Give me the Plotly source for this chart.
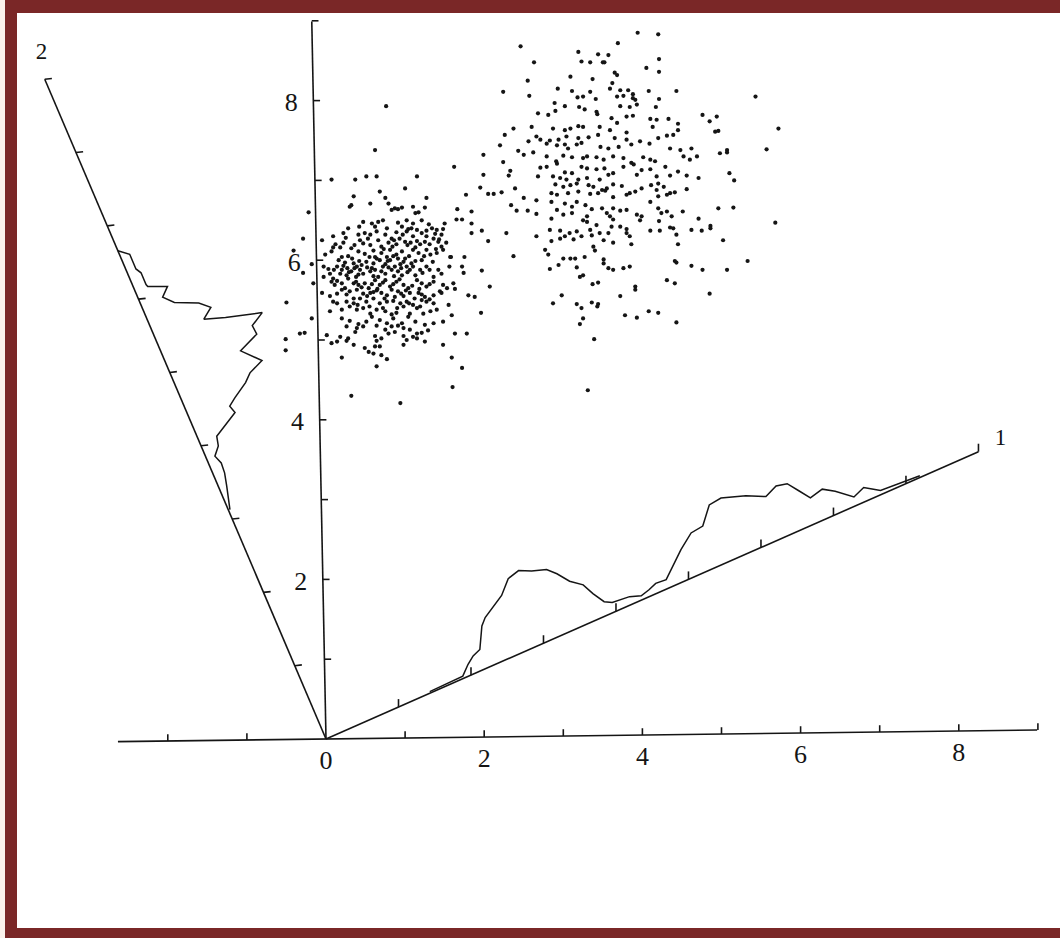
import math
import plotly.graph_objects as go

# ---------------- data (in axis units) ----------------
cluster_a_x = [
    0.07, 0.37, 0.51, 0.64, 1.15, 0.35, 0.68, 0.75, 1.00, 1.27,
    0.30, 0.32, 0.56, 0.79, 0.83, 0.87, 0.91, 0.96, 1.10, 1.25,
    1.13, 1.17, -0.22, 0.47, 0.58, 0.66, 0.91, 1.02, 1.10, 1.21,
    1.50, 0.77, 0.89, 1.02, 1.04, 1.15, 1.27, 1.34, 1.40, 1.48,
    -0.29, -0.05, 0.09, 0.22, 0.41, 0.49, 0.56, 0.64, 0.75, 0.83,
    0.97, 1.10, 1.21, 1.27, 1.46, 0.09, 0.18, 0.22, 0.32, 0.43,
    0.47, 0.56, 0.66, 0.70, 0.79, 0.86, 0.89, 1.00, 1.03, 1.15,
    1.19, 1.25, 1.36, 1.42, 1.46, 1.48, -0.41, -0.01, 0.07, 0.20,
    0.28, 0.41, 0.49, 0.62, 0.70, 0.77, 0.81, 0.89, 0.96, 1.05,
    1.10, 1.17, 1.27, 1.32, 1.40, 1.57, -0.18, -0.03, 0.03, 0.14,
    0.20, 0.27, 0.35, 0.39, 0.45, 0.51, 0.58, 0.64, 0.68, 0.75, 0.81, 0.87, 0.91, 0.98, 1.02, 1.08, 1.21, 1.27, 1.42,
    -0.29, -0.03, 0.05, 0.09, 0.18, 0.26, 0.32, 0.38, 0.43, 0.47, 0.56, 0.62, 0.66, 0.75, 0.83, 0.91, 0.96, 1.06, 1.13, 1.19, 1.36, 1.46, 1.56,
    -0.16, 0.07, 0.11, 0.20, 0.24, 0.35, 0.41, 0.49, 0.54, 0.62, 0.68, 0.75, 0.81, 0.89, 0.98, 1.04, 1.15, 1.21, 1.27, 1.36, 1.44, 1.48, 1.53,
    -0.05, 0.05, 0.14, 0.20, 0.30, 0.39, 0.47, 0.56, 0.64, 0.70, 0.77, 0.83, 0.91, 0.98, 1.06, 1.17, 1.25, 1.36, 1.46,
    -0.50, 0.09, 0.14, 0.26, 0.35, 0.43, 0.51, 0.60, 0.68, 0.77, 0.85, 0.94, 1.02, 1.10, 1.21, 1.27, 1.36, 1.55,
    0.05, 0.20, 0.30, 0.39, 0.47, 0.56, 0.64, 0.75, 0.83, 0.89, 0.98, 1.06, 1.15, 1.23, 1.32, 1.40,
    -0.18, 0.20, 0.30, 0.41, 0.51, 0.58, 0.68, 0.77, 0.85, 0.96, 1.04, 1.13, 1.25, 1.36, 1.48,
    0.26, 0.39, 0.47, 0.64, 0.75, 0.83, 0.91, 0.98, 1.06, 1.15, 1.21, 1.29,
    -0.33, -0.27, 0.01, 0.18, 0.28, 0.37, 0.62, 0.70, 0.79, 0.87, 0.98, 1.02, 1.10, 1.15, 1.25,
    -0.51, 0.07, 0.14, 0.26, 0.35, 0.49, 0.54, 0.62, 0.64, 0.68, 0.98, 1.48,
    -0.51, 1.59, 0.20, 0.60, 0.70, 0.77,
    0.64, 1.72, 1.60, 0.32, 0.94,
    0.76, 0.62,
]
cluster_a_y = [
    7.01, 7.01, 7.05, 7.05, 7.05, 6.80, 6.86, 6.78, 6.90, 6.78,
    6.67, 6.69, 6.71, 6.71, 6.63, 6.65, 6.64, 6.66, 6.67, 6.66,
    6.59, 6.60, 6.60, 6.48, 6.46, 6.48, 6.47, 6.50, 6.46, 6.50,
    6.46, 6.40, 6.35, 6.36, 6.39, 6.38, 6.37, 6.40, 6.38, 6.39,
    6.27, 6.25, 6.30, 6.34, 6.32, 6.34, 6.32, 6.36, 6.32, 6.27,
    6.32, 6.30, 6.34, 6.30, 6.32, 6.16, 6.16, 6.22, 6.15, 6.25,
    6.21, 6.19, 6.25, 6.17, 6.22, 6.25, 6.20, 6.23, 6.19, 6.24,
    6.20, 6.23, 6.27, 6.23, 6.17, 6.13, 6.12, 6.07, 6.11, 6.04,
    6.05, 6.11, 6.08, 6.04, 6.09, 6.04, 6.13, 6.07, 6.11, 6.05,
    6.13, 6.09, 6.13, 6.07, 6.09, 6.04, 5.95, 5.92, 5.89, 5.92,
    5.88, 5.90, 5.96, 5.92, 5.94, 5.98, 5.90, 6.02, 6.00, 5.95, 6.00, 5.92, 6.02, 5.98, 5.92, 5.96, 6.00, 5.92, 5.88,
    5.84, 5.79, 5.83, 5.77, 5.83, 5.81, 5.86, 5.79, 5.88, 5.83, 5.86, 5.88, 5.79, 5.83, 5.88, 5.86, 5.81, 5.88, 5.81, 5.88, 5.79, 5.83, 5.92,
    5.71, 5.73, 5.69, 5.71, 5.65, 5.71, 5.69, 5.71, 5.65, 5.75, 5.69, 5.75, 5.67, 5.73, 5.69, 5.65, 5.75, 5.71, 5.67, 5.73, 5.61, 5.69, 5.65,
    5.59, 5.55, 5.58, 5.63, 5.61, 5.63, 5.58, 5.59, 5.62, 5.59, 5.56, 5.63, 5.61, 5.55, 5.59, 5.59, 5.54, 5.56, 5.59,
    5.47, 5.48, 5.46, 5.48, 5.46, 5.52, 5.48, 5.52, 5.46, 5.48, 5.49, 5.46, 5.48, 5.44, 5.50, 5.48, 5.46, 5.44,
    5.36, 5.38, 5.42, 5.38, 5.40, 5.33, 5.38, 5.36, 5.32, 5.34, 5.42, 5.33, 5.40, 5.33, 5.36, 5.38,
    5.27, 5.27, 5.24, 5.20, 5.23, 5.29, 5.25, 5.21, 5.27, 5.21, 5.29, 5.23, 5.19, 5.21, 5.23,
    5.17, 5.15, 5.17, 5.18, 5.13, 5.17, 5.18, 5.15, 5.13, 5.08, 5.09, 5.12,
    5.08, 5.09, 5.06, 5.04, 5.02, 5.10, 5.05, 5.02, 5.08, 5.10, 5.05, 5.00, 5.04, 5.02, 4.98,
    5.01, 4.96, 4.98, 4.99, 4.94, 4.90, 4.85, 4.92, 4.99, 4.92, 4.94, 4.94,
    4.87, 4.78, 4.78, 4.83, 4.81, 4.76,
    4.67, 4.65, 4.41, 4.30, 4.21,
    7.93, 7.38,
]

# extra points inside the merged blobs of the dense core of the left cluster
core_a_x = [
    0.12, 0.25, 0.36, 0.53, 0.60, 0.73, 0.84, 0.93, 1.07, 1.13, 1.31, 1.39,
    0.16, 0.24, 0.33, 0.42, 0.55, 0.60, 0.72, 0.78, 0.85, 0.94, 1.00, 1.13, 1.24, 1.35,
    0.10, 0.22, 0.29, 0.36, 0.41, 0.52, 0.60, 0.70, 0.79, 0.86, 0.95, 1.03, 1.10, 1.22, 1.31,
    0.14, 0.28, 0.38, 0.45, 0.58, 0.65, 0.72, 0.85, 0.93, 1.01, 1.09, 1.18, 1.31,
    0.26, 0.35, 0.52, 0.60, 0.74, 0.87, 0.95, 1.12, 1.21, 1.31,
    0.40, 0.55, 0.72, 0.90, 1.05, 1.19,
    0.28, 0.42, 0.62, 0.72, 0.96, 1.08, 1.30, 1.43, 1.52, 1.38,
]
core_a_y = [
    6.20, 6.28, 6.19, 6.27, 6.12, 6.14, 6.17, 6.27, 6.22, 6.16, 6.20, 6.14,
    6.00, 5.97, 6.02, 5.99, 6.04, 5.96, 5.92, 5.99, 6.05, 5.95, 6.02, 5.99, 6.05, 5.98,
    5.88, 5.93, 5.85, 5.90, 5.82, 5.91, 5.80, 5.86, 5.91, 5.80, 5.90, 5.85, 5.92, 5.84, 5.88,
    5.74, 5.77, 5.73, 5.66, 5.70, 5.64, 5.72, 5.70, 5.76, 5.62, 5.68, 5.64, 5.70,
    5.57, 5.52, 5.55, 5.60, 5.52, 5.54, 5.58, 5.52, 5.57, 5.51,
    5.44, 5.42, 5.40, 5.40, 5.46, 5.42,
    6.40, 6.42, 6.42, 6.50, 6.42, 6.40, 6.45, 6.26, 6.22, 6.33,
]

cluster_b_x = [
    3.94, 4.20, 2.46, 3.69, 3.19, 3.44, 3.57, 2.63, 3.23, 3.34, 3.50, 3.52, 4.21, 4.05, 4.21,
    3.65, 3.68, 3.09, 3.37, 2.55, 3.62, 2.93, 3.59, 3.72, 2.24, 3.11, 3.34, 3.82, 3.88, 4.08, 4.43, 2.57, 3.18, 3.25, 3.41, 3.68, 3.76, 3.88, 3.91, 4.21, 5.43,
    2.89, 3.02, 3.20, 3.27, 3.42, 3.72, 3.84, 3.93, 4.17, 2.68, 2.81, 2.90, 3.43, 3.61, 3.80, 3.88, 4.10, 4.18, 4.33, 4.76, 4.85, 4.94, 5.72,
    2.37, 2.60, 2.87, 3.02, 3.09, 3.19, 3.25, 3.46, 3.59, 3.68, 3.80, 4.13, 4.45, 4.45, 4.31, 4.39, 4.92, 4.96,
    2.26, 2.66, 2.71, 2.83, 2.94, 3.04, 3.19, 3.32, 3.44, 3.65, 3.80, 3.97, 4.09, 4.20,
    2.20, 2.56, 2.79, 2.92, 3.02, 3.06, 3.17, 3.23, 3.47, 3.57, 3.70, 3.86, 4.35, 4.48, 4.62, 5.07, 5.57,
    1.99, 2.24, 2.43, 2.50, 2.62, 2.79, 2.91, 3.00, 3.11, 3.25, 3.30, 3.42, 3.51, 3.63, 3.76, 3.86, 4.01, 4.10, 4.16, 4.52, 4.60, 4.69, 4.98, 5.07,
    1.62, 2.33, 2.71, 2.79, 2.92, 3.02, 3.11, 3.23, 3.30, 3.42, 3.52, 3.57, 3.63, 3.76, 3.89, 3.99, 4.10, 4.29, 4.35, 4.45, 4.56, 4.71, 5.10, 5.16,
    1.99, 2.31, 2.68, 2.87, 2.96, 3.04, 3.19, 3.30, 3.46, 3.93, 4.18, 4.20,
    1.95, 2.39, 2.90, 3.00, 3.09, 3.17, 3.32, 3.38, 3.49, 3.55, 3.63, 3.74, 3.84, 3.91, 3.99, 4.11, 4.18, 4.27, 4.35, 4.41, 4.56,
    1.77, 2.05, 2.12, 2.22, 2.50, 2.66, 2.85, 2.92, 3.06, 3.19, 3.34, 3.44, 3.53, 3.63, 3.80, 4.10, 4.20, 4.31,
    2.34, 2.41, 2.55, 2.66, 2.85, 2.92, 3.02, 3.11, 3.17, 3.28, 3.36, 3.49, 3.55, 3.63, 3.72, 3.80, 3.93, 3.99, 4.20, 4.24, 4.31, 4.37, 4.51, 4.71, 4.86, 4.96, 5.15,
    1.66, 1.84, 1.65, 1.72, 2.85, 3.00, 3.11, 3.25, 3.30, 3.59, 3.63, 3.97,
    1.84, 3.30, 3.42, 3.61, 3.72, 3.80, 4.21, 4.35, 4.39, 4.62, 4.75, 4.86, 5.68,
    1.84, 1.97, 2.28, 2.83, 2.96, 3.08, 3.17, 3.34, 3.46, 3.57, 3.80, 3.84, 4.10, 4.22, 4.43,
    2.05, 2.66, 2.85, 2.96, 3.02, 3.13, 3.23, 3.36, 3.51, 3.63, 3.86, 4.45, 5.02,
    1.58, 1.75, 2.37, 2.77, 2.81, 3.00, 3.09, 3.15, 3.27, 3.38, 3.40, 3.51, 3.57, 3.63, 3.76, 3.84, 4.41, 4.43, 4.62, 4.76, 5.07, 5.33,
    1.72, 1.74, 1.97, 2.83, 2.94, 3.17, 3.21, 3.25, 3.51,
    1.61, 1.63, 1.80, 1.88, 2.07, 2.98, 3.37, 3.44, 3.91, 3.91, 4.31, 4.41, 4.85, 3.72, 2.87, 3.17,
    3.23, 3.36, 3.44, 3.43, 1.59, 1.96, 3.21, 3.25, 3.78, 3.93, 4.08, 4.20, 4.43, 1.63, 1.78, 3.39,
    3.31,
]
cluster_b_y = [
    8.85, 8.83, 8.68, 8.72, 8.61, 8.58, 8.57, 8.48, 8.49, 8.48, 8.48, 8.48, 8.52, 8.41, 8.36,
    8.35, 8.32, 8.30, 8.27, 8.25, 8.22, 8.15, 8.15, 8.13, 8.11, 8.12, 8.11, 8.13, 8.08, 8.12, 8.12, 8.06, 8.04, 8.05, 8.02, 8.05, 8.06, 8.03, 8.01, 8.02, 8.05,
    7.97, 7.93, 7.92, 7.89, 7.86, 7.93, 7.92, 7.95, 7.92, 7.84, 7.82, 7.87, 7.83, 7.78, 7.80, 7.81, 7.77, 7.76, 7.77, 7.82, 7.74, 7.80, 7.65,
    7.65, 7.67, 7.65, 7.63, 7.65, 7.68, 7.67, 7.67, 7.63, 7.72, 7.60, 7.67, 7.71, 7.63, 7.56, 7.57, 7.61, 7.62,
    7.57, 7.55, 7.51, 7.50, 7.51, 7.55, 7.53, 7.54, 7.57, 7.53, 7.51, 7.49, 7.46, 7.53,
    7.44, 7.49, 7.46, 7.44, 7.45, 7.40, 7.45, 7.47, 7.42, 7.40, 7.42, 7.45, 7.40, 7.38, 7.40, 7.38, 7.39,
    7.32, 7.23, 7.37, 7.32, 7.35, 7.30, 7.24, 7.31, 7.29, 7.28, 7.30, 7.29, 7.26, 7.30, 7.28, 7.22, 7.29, 7.26, 7.24, 7.30, 7.26, 7.30, 7.34, 7.35,
    7.17, 7.12, 7.16, 7.17, 7.21, 7.10, 7.09, 7.17, 7.15, 7.14, 7.15, 7.07, 7.09, 7.17, 7.20, 7.13, 7.14, 7.17, 7.06, 7.11, 7.06, 7.03, 7.09, 7.00,
    7.07, 7.06, 7.05, 7.05, 7.03, 7.01, 7.01, 7.03, 7.01, 7.07, 7.05, 6.96,
    6.91, 6.90, 6.95, 6.92, 6.94, 6.96, 6.94, 6.92, 6.88, 6.90, 6.95, 6.93, 6.84, 6.86, 6.90, 6.94, 6.88, 6.92, 6.84, 6.85, 6.89,
    6.82, 6.83, 6.83, 6.85, 6.78, 6.75, 6.84, 6.82, 6.84, 6.86, 6.83, 6.84, 6.87, 6.79, 6.82, 6.73, 6.80, 6.82,
    6.69, 6.62, 6.62, 6.58, 6.73, 6.63, 6.71, 6.67, 6.73, 6.69, 6.64, 6.65, 6.59, 6.65, 6.62, 6.63, 6.57, 6.55, 6.65, 6.59, 6.61, 6.55, 6.61, 6.52, 6.43, 6.65, 6.66,
    6.64, 6.61, 6.51, 6.51, 6.52, 6.57, 6.59, 6.50, 6.55, 6.55, 6.51, 6.50,
    6.46, 6.48, 6.44, 6.42, 6.42, 6.39, 6.49, 6.41, 6.40, 6.38, 6.37, 6.40, 6.47,
    6.34, 6.37, 6.34, 6.38, 6.37, 6.34, 6.36, 6.38, 6.34, 6.34, 6.34, 6.30, 6.37, 6.37, 6.32,
    6.24, 6.30, 6.24, 6.27, 6.30, 6.26, 6.30, 6.31, 6.25, 6.22, 6.20, 6.20, 6.25,
    6.04, 6.04, 6.05, 6.13, 6.07, 6.02, 6.02, 6.02, 6.04, 6.17, 6.12, 6.01, 5.90, 5.88, 5.90, 5.92, 5.99, 5.97, 5.93, 5.88, 5.88, 5.99,
    5.92, 5.84, 5.87, 5.89, 5.94, 5.91, 5.79, 5.81, 5.96,
    5.71, 5.64, 5.56, 5.54, 5.67, 5.56, 5.70, 5.72, 5.67, 5.63, 5.75, 5.71, 5.58, 5.55, 5.46, 5.45,
    5.40, 5.47, 5.45, 5.42, 5.31, 5.34, 5.20, 5.27, 5.31, 5.28, 5.36, 5.34, 5.22, 5.08, 5.08, 5.01,
    4.37,
]

# projection profile on rotated axis 1: position along axis, height above it
profile1_t = [1.44, 1.90, 2.02, 2.12, 2.23, 2.37, 2.45, 2.57, 2.75, 2.91, 3.07, 3.22, 3.40, 3.50,
              3.61, 3.75, 3.82, 3.91, 4.00, 4.23, 4.37, 4.49, 4.60, 4.74, 4.88, 5.01, 5.06, 5.26,
              5.43, 5.61, 5.78, 6.08, 6.31, 6.48, 6.62, 6.72, 6.82, 7.00, 7.14, 7.33, 7.49, 7.58,
              7.67, 8.20]
profile1_h = [0.02, 0.03, 0.14, 0.21, 0.25, 0.51, 0.59, 0.66, 0.76, 0.92, 0.96, 0.89, 0.83, 0.73,
              0.58, 0.47, 0.32, 0.17, 0.12, 0.10, 0.05, 0.08, 0.12, 0.11, 0.23, 0.33, 0.38, 0.52,
              0.54, 0.75, 0.77, 0.67, 0.56, 0.63, 0.60, 0.46, 0.32, 0.36, 0.27, 0.11, 0.17, 0.11,
              0.05, 0.02]

# projection profile on rotated axis 2: position along axis, height to its right
profile2_t = [6.66, 6.56, 6.36, 6.29, 6.13, 6.10, 6.00, 5.90, 5.78, 5.65, 5.54, 5.44, 5.35, 5.22,
              5.12, 5.00, 4.89, 4.67, 4.59, 4.50, 4.38, 4.31, 4.21, 4.12, 4.03, 3.91, 3.81, 3.70,
              3.57, 3.41, 3.24, 3.12]
profile2_h = [0.00, 0.12, 0.12, 0.16, 0.16, 0.17, 0.40, 0.29, 0.40, 0.68, 0.80, 0.66, 0.92, 1.37,
              1.19, 1.20, 0.93, 1.13, 0.93, 0.83, 0.63, 0.53, 0.56, 0.39, 0.23, 0.20, 0.11, 0.15,
              0.14, 0.10, 0.05, 0.02]

x_tick_vals = [-2, -1, 1, 2, 3, 4, 5, 6, 7, 8, 9]
y_tick_vals = [1, 2, 3, 4, 5, 6, 7, 8, 9]
rot_tick_vals = [1, 2, 3, 4, 5, 6, 7, 8, 9]
x_label_vals = [0, 2, 4, 6, 8]
y_label_vals = [2, 4, 6, 8]
rot_axis_names = ["1", "2"]

# ---------------- geometry / style ----------------
ANG1 = math.radians(23.58)
ANG2 = math.radians(113.27)
AX_LEN = 9.0
U1 = (math.cos(ANG1), math.sin(ANG1))
U2 = (math.cos(ANG2), math.sin(ANG2))
H_SKEW = 0.0125   # slight tilt of the scanned horizontal axis
V_SKEW = -0.02    # slight tilt of the scanned vertical axis
X_MIN, X_MAX = -2.63, 8.99
Y_MAX = 8.99
TICK = 0.085
INK = "#151515"
FONT = "Liberation Serif"

segx, segy = [], []


def seg(p, q):
    segx.extend([p[0], q[0], None])
    segy.extend([p[1], q[1], None])


# base axes
seg((X_MIN, H_SKEW * X_MIN), (X_MAX, H_SKEW * X_MAX))
seg((0, 0), (V_SKEW * Y_MAX, Y_MAX))
for v in x_tick_vals:
    seg((v, H_SKEW * v), (v, H_SKEW * v + TICK))
for v in y_tick_vals:
    seg((V_SKEW * v, v), (V_SKEW * v + TICK, v))
# rotated axes
seg((0, 0), (AX_LEN * U1[0], AX_LEN * U1[1]))
seg((0, 0), (AX_LEN * U2[0], AX_LEN * U2[1]))
for k in rot_tick_vals:
    p = (k * U1[0], k * U1[1])
    seg(p, (p[0], p[1] + 0.1))
    q = (k * U2[0], k * U2[1])
    seg(q, (q[0] + 0.09, q[1] + 0.01))

# profiles
p1x = [t * U1[0] + h * U2[0] for t, h in zip(profile1_t, profile1_h)]
p1y = [t * U1[1] + h * U2[1] for t, h in zip(profile1_t, profile1_h)]
p2x = [t * U2[0] + h * U1[0] for t, h in zip(profile2_t, profile2_h)]
p2y = [t * U2[1] + h * U1[1] for t, h in zip(profile2_t, profile2_h)]

fig = go.Figure()
fig.add_trace(go.Scatter(x=segx, y=segy, mode="lines",
                         line=dict(color=INK, width=1.6), hoverinfo="skip"))
fig.add_trace(go.Scatter(x=p1x, y=p1y, mode="lines",
                         line=dict(color=INK, width=1.5), hoverinfo="skip"))
fig.add_trace(go.Scatter(x=p2x, y=p2y, mode="lines",
                         line=dict(color=INK, width=1.5), hoverinfo="skip"))
fig.add_trace(go.Scatter(x=cluster_a_x + core_a_x + cluster_b_x,
                         y=cluster_a_y + core_a_y + cluster_b_y,
                         mode="markers",
                         marker=dict(color=INK, size=4.2, line=dict(width=0))))

# tick labels
fig.add_trace(go.Scatter(
    x=[v for v in x_label_vals],
    y=[H_SKEW * v - 0.30 for v in x_label_vals],
    mode="text", text=[str(v) for v in x_label_vals],
    textfont=dict(family=FONT, size=26, color=INK), hoverinfo="skip"))
fig.add_trace(go.Scatter(
    x=[V_SKEW * v - 0.28 for v in y_label_vals],
    y=[v - 0.05 for v in y_label_vals],
    mode="text", text=[str(v) for v in y_label_vals],
    textfont=dict(family=FONT, size=26, color=INK), hoverinfo="skip"))
fig.add_trace(go.Scatter(
    x=[AX_LEN * U1[0] + 0.28, AX_LEN * U2[0] - 0.04],
    y=[AX_LEN * U1[1] + 0.15, AX_LEN * U2[1] + 0.33],
    mode="text", text=rot_axis_names,
    textfont=dict(family=FONT, size=23, color=INK), hoverinfo="skip"))

W, H = 1060, 938
ML, MT, MB, MR = 17, 13, 10, 0
PW = W - ML - MR
PH = H - MT - MB
PX_X, PX_Y = 79.1, 79.8   # pixels per unit
ORIGIN_PX = (326, 739)
x0 = -(ORIGIN_PX[0] - ML) / PX_X
x1 = x0 + PW / PX_X
y1 = (ORIGIN_PX[1] - MT) / PX_Y
y0 = y1 - PH / PX_Y

fig.update_layout(
    width=W, height=H, autosize=False,
    margin=dict(l=ML, r=MR, t=MT, b=MB, pad=0),
    paper_bgcolor="#7A2727", plot_bgcolor="white",
    showlegend=False,
    xaxis=dict(range=[x0, x1], visible=False, fixedrange=True),
    yaxis=dict(range=[y0, y1], visible=False, fixedrange=True),
    shapes=[
        dict(type="rect", xref="paper", yref="paper",
             x0=-ML / PW, x1=-(ML - 5) / PW, y0=-MB / PH, y1=1 + MT / PH,
             fillcolor="#FBF1EC", line=dict(width=0), layer="below"),
        dict(type="rect", xref="paper", yref="paper",
             x0=0.99, x1=1.02, y0=0, y1=1,
             fillcolor="white", line=dict(width=0), layer="below"),
    ],
)

fig.write_html("out.html",
               config={"displayModeBar": False, "staticPlot": True},
               post_script="document.body.style.margin='0';document.body.style.overflow='hidden';")
